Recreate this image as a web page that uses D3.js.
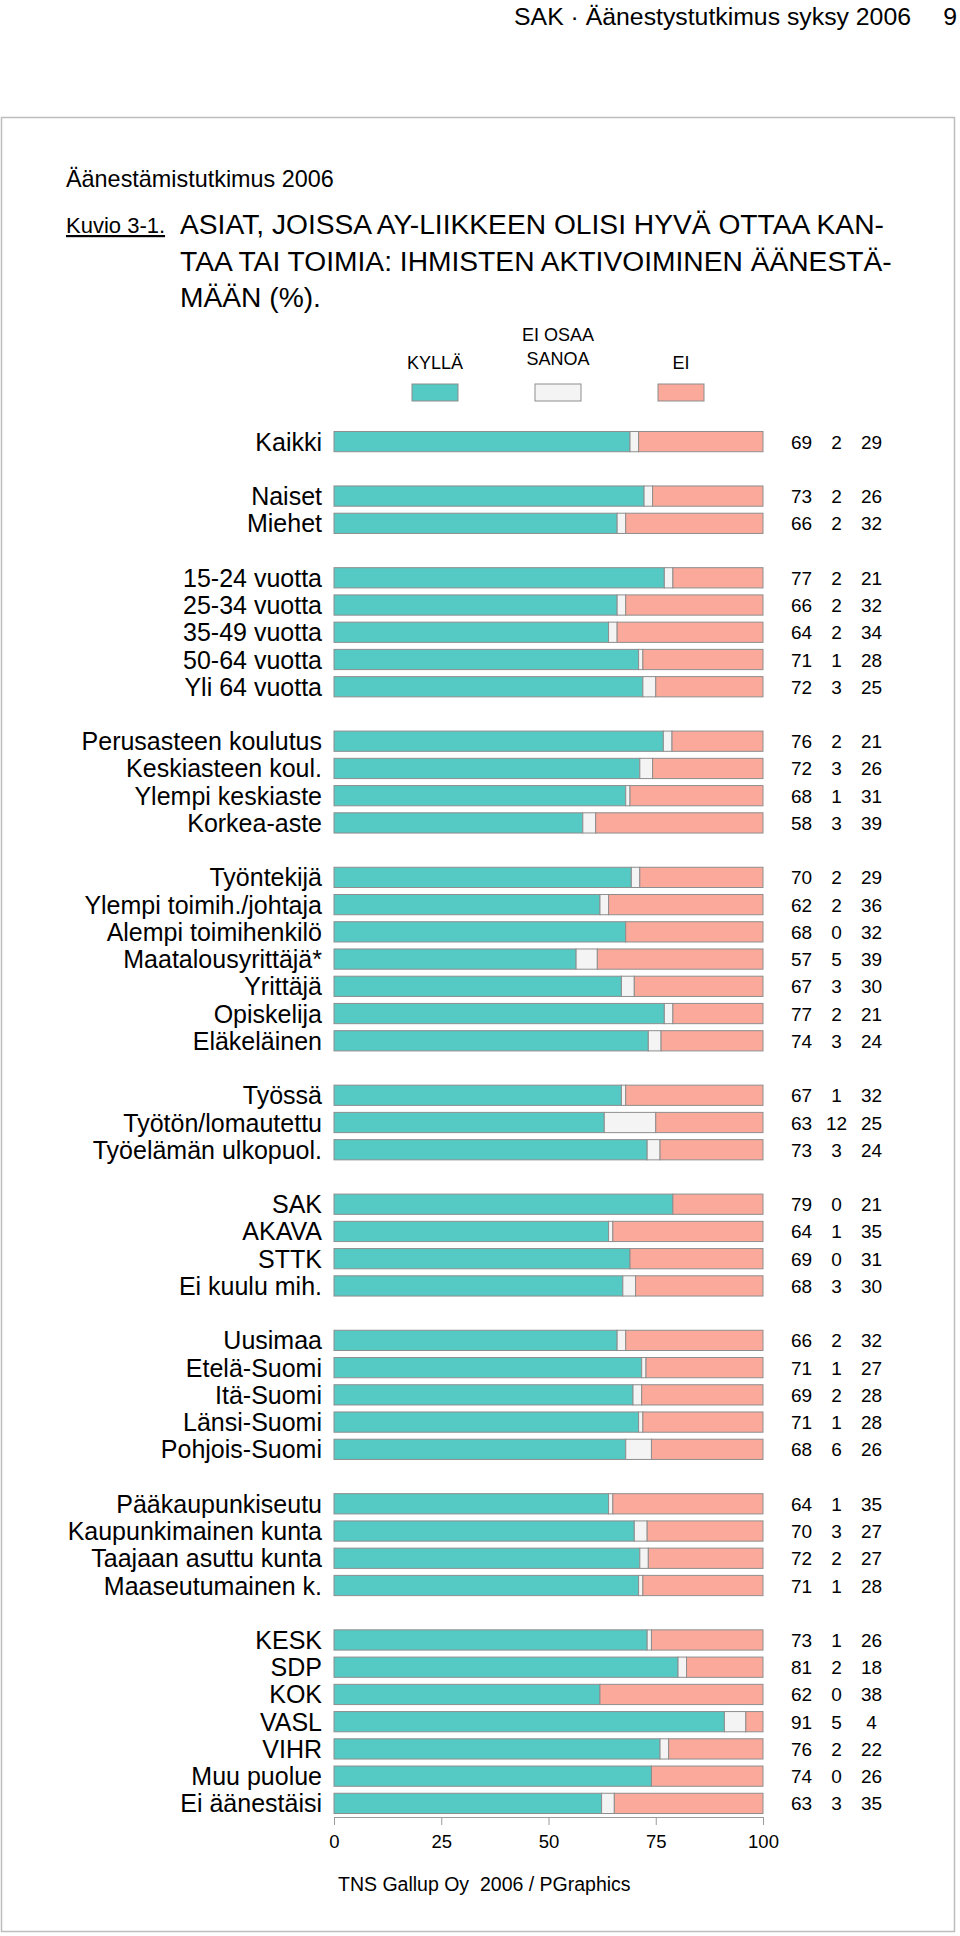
<!DOCTYPE html>
<html>
<head>
<meta charset="utf-8">
<script src="https://cdn.jsdelivr.net/npm/d3@7"></script>
<style>
  html, body { margin: 0; padding: 0; background: #fff; }
  svg { display: block; }
  text { font-family: "Liberation Sans", Arial, Helvetica, sans-serif; fill: #000; white-space: pre; }
</style>
</head>
<body>
<svg id="chart" width="960" height="1936"></svg>
<script>
// ---- data ----
const categories = [
  "Kaikki",
  "Naiset", "Miehet",
  "15-24 vuotta", "25-34 vuotta", "35-49 vuotta", "50-64 vuotta", "Yli 64 vuotta",
  "Perusasteen koulutus", "Keskiasteen koul.", "Ylempi keskiaste", "Korkea-aste",
  "Työntekijä", "Ylempi toimih./johtaja", "Alempi toimihenkilö", "Maatalousyrittäjä*", "Yrittäjä", "Opiskelija", "Eläkeläinen",
  "Työssä", "Työtön/lomautettu", "Työelämän ulkopuol.",
  "SAK", "AKAVA", "STTK", "Ei kuulu mih.",
  "Uusimaa", "Etelä-Suomi", "Itä-Suomi", "Länsi-Suomi", "Pohjois-Suomi",
  "Pääkaupunkiseutu", "Kaupunkimainen kunta", "Taajaan asuttu kunta", "Maaseutumainen k.",
  "KESK", "SDP", "KOK", "VASL", "VIHR", "Muu puolue", "Ei äänestäisi"
];
const groupSizes = [1, 2, 5, 4, 7, 3, 4, 5, 4, 7];
const kylla = [69, 73,66, 77,66,64,71,72, 76,72,68,58, 70,62,68,57,67,77,74, 67,63,73, 79,64,69,68, 66,71,69,71,68, 64,70,72,71, 73,81,62,91,76,74,63];
const eos   = [2, 2,2, 2,2,2,1,3, 2,3,1,3, 2,2,0,5,3,2,3, 1,12,3, 0,1,0,3, 2,1,2,1,6, 1,3,2,1, 1,2,0,5,2,0,3];
const ei    = [29, 26,32, 21,32,34,28,25, 21,26,31,39, 29,36,32,39,30,21,24, 32,25,24, 21,35,31,30, 32,27,28,28,26, 35,27,27,28, 26,18,38,4,22,26,35];
const seriesNames = ["KYLLÄ", "EI OSAA SANOA", "EI"];
const tickValues = [0, 25, 50, 75, 100];

// ---- styles ----
const colors = ["#55c9c3", "#f4f4f4", "#fba99a"];
const strokeCol = "#8e8e8e";

const svg = d3.select("#chart");

// frame
svg.append("rect").attr("x", 1.5).attr("y", 117.5).attr("width", 953).attr("height", 1814)
  .attr("fill", "none").attr("stroke", "#bdbdbd").attr("stroke-width", 1.5);

// header
svg.append("text").attr("x", 911).attr("y", 25).attr("text-anchor", "end")
  .style("font-size", "24.8px").text("SAK · Äänestystutkimus syksy 2006");
svg.append("text").attr("x", 957).attr("y", 25).attr("text-anchor", "end")
  .style("font-size", "24.8px").text("9");

// titles
svg.append("text").attr("x", 66).attr("y", 187).style("font-size", "23.4px").text("Äänestämistutkimus 2006");
svg.append("text").attr("x", 66).attr("y", 233).style("font-size", "22px")
  .style("text-decoration", "underline").text("Kuvio 3-1.");
const titleLines = [
  "ASIAT, JOISSA AY-LIIKKEEN OLISI HYVÄ OTTAA KAN-",
  "TAA TAI TOIMIA: IHMISTEN AKTIVOIMINEN ÄÄNESTÄ-",
  "MÄÄN (%)."
];
svg.append("g").selectAll("text").data(titleLines).join("text")
  .attr("x", 180).attr("y", (d, i) => 234 + i * 36.5)
  .style("font-size", "28.2px").text(d => d);

// legend
const legendX = d3.scaleOrdinal().domain(seriesNames).range([435, 558, 681]);
const legend = svg.append("g");
legend.selectAll("rect").data(seriesNames).join("rect")
  .attr("x", d => legendX(d) - 23).attr("y", 384).attr("width", 46).attr("height", 17)
  .attr("fill", (d, i) => colors[i]).attr("stroke", strokeCol).attr("stroke-width", 1);
const legendLines = [["KYLLÄ"], ["EI OSAA", "SANOA"], ["EI"]];
seriesNames.forEach((name, i) => {
  const lines = legendLines[i];
  lines.forEach((ln, j) => {
    legend.append("text").attr("x", legendX(name)).attr("text-anchor", "middle")
      .attr("y", 369 - (lines.length - 1 - j) * 24 - (lines.length > 1 ? 4 : 0))
      .style("font-size", "18px").text(ln);
  });
});

// build slots (with gap slots between groups)
const slots = [];
let idx = 0;
groupSizes.forEach((n, g) => {
  if (g > 0) slots.push("__gap" + g);
  for (let k = 0; k < n; k++) slots.push(categories[idx++]);
});

const y = d3.scaleBand().domain(slots).range([428, 1817]).paddingInner(0.22).paddingOuter(0.11);
const x = d3.scaleLinear().domain([0, 100]).range([334, 763]);

const rows = categories.map((c, i) => {
  const vals = [kylla[i], eos[i], ei[i]];
  const sum = vals[0] + vals[1] + vals[2];
  let acc = 0;
  const segs = vals.map((v, s) => {
    const x0 = acc / sum * 100;
    acc += v;
    return { s, x0, x1: acc / sum * 100 };
  });
  return { c, vals, segs };
});

const barG = svg.append("g");
const rowG = barG.selectAll("g").data(rows).join("g")
  .attr("transform", d => `translate(0,${y(d.c)})`);
rowG.selectAll("rect").data(d => d.segs).join("rect")
  .attr("x", d => x(d.x0)).attr("width", d => x(d.x1) - x(d.x0))
  .attr("y", 0.5).attr("height", y.bandwidth() - 1)
  .attr("fill", d => colors[d.s]).attr("stroke", strokeCol).attr("stroke-width", 1);

// category labels
svg.append("g").selectAll("text").data(rows).join("text")
  .attr("x", 322).attr("y", d => y(d.c) + y.bandwidth() / 2 + 9)
  .attr("text-anchor", "end").style("font-size", "25px").text(d => d.c);

// value columns
const colX = [801.5, 836.5, 871.5];
const valG = svg.append("g");
rows.forEach(r => {
  r.vals.forEach((v, s) => {
    valG.append("text").attr("x", colX[s]).attr("y", y(r.c) + y.bandwidth() / 2 + 7)
      .attr("text-anchor", "middle").style("font-size", "19px").text(v);
  });
});

// x axis
const axis = svg.append("g").attr("transform", "translate(0,1817)")
  .call(d3.axisBottom(x).tickValues(tickValues).tickSize(8).tickSizeOuter(0).tickPadding(10));
axis.select(".domain").attr("stroke", "#9a9a9a");
axis.selectAll(".tick line").attr("stroke", "#9a9a9a");
axis.selectAll(".tick text").style("font-size", "18.5px").attr("fill", "#000")
  .style("font-family", '"Liberation Sans", Arial, sans-serif');

// source
svg.append("text").attr("x", 338).attr("y", 1891).style("font-size", "19.5px")
  .text("TNS Gallup Oy  2006 / PGraphics");
</script>
</body>
</html>
